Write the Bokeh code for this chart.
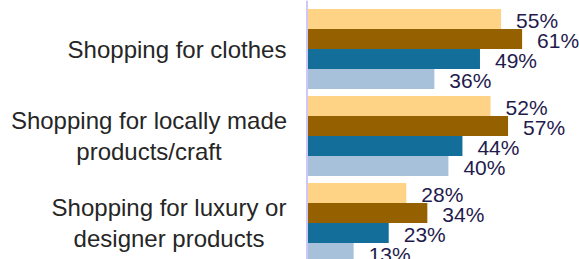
from bokeh.plotting import figure
from bokeh.models import Range1d, ColumnDataSource, Span
from bokeh.core.properties import value
from bokeh.embed import file_html
from bokeh.resources import INLINE

categories = ["Shopping for clothes",
              "Shopping for locally made\nproducts/craft",
              "Shopping for luxury or\ndesigner products"]
series_names = ["S1", "S2", "S3", "S4"]
series_values = [
    [55, 52, 28],
    [61, 57, 34],
    [49, 44, 23],
    [36, 40, 13],
]
colors = ["#FFD385", "#956000", "#136F99", "#A7C1DB"]

# layout
W, H = 579, 259
ZERO_PX = 307.5          # page x of the bar baseline
PX_PER_UNIT = 3.51
label_centers_px = [176.5, 148.5, 168.5]   # page x of the category label block centres
GROUP_STEP = 4.35

x_start = -ZERO_PX / PX_PER_UNIT
x_end = (W - ZERO_PX) / PX_PER_UNIT

p = figure(width=W, height=H, output_backend="svg", toolbar_location=None,
           x_range=Range1d(x_start, x_end), y_range=Range1d(12.025, -0.925),
           min_border_left=0, min_border_right=0, min_border_top=0, min_border_bottom=0)
p.outline_line_color = None
p.xgrid.visible = False
p.ygrid.visible = False
p.xaxis.visible = False
p.yaxis.visible = False
p.background_fill_color = None
p.border_fill_color = None

p.add_layout(Span(location=-1.0 / PX_PER_UNIT, dimension="height",
                  line_color="#CFC8F6", line_width=2))

for s, (name, vals) in enumerate(zip(series_names, series_values)):
    ys = [g * GROUP_STEP + s for g in range(len(categories))]
    src = ColumnDataSource(dict(y=ys, v=vals, lab=[f"{v}%" for v in vals]))
    p.hbar(y="y", left=0, right="v", height=1.0, source=src, fill_color=colors[s], line_color=None)
    p.text(x="v", y="y", text="lab", source=src, x_offset=15, y_offset=1,
           text_baseline="middle", text_align="left", text_font=value("Liberation Sans"),
           text_font_size="21px", text_color="#1F1B4D")

cat_src = ColumnDataSource(dict(
    x=[(cx - ZERO_PX) / PX_PER_UNIT for cx in label_centers_px],
    y=[g * GROUP_STEP + 1.5 for g in range(len(categories))],
    t=categories))
p.text(x="x", y="y", text="t", source=cat_src, text_align="center", text_baseline="middle",
       text_font=value("Liberation Sans"), text_font_size="24px",
       text_color="#262626", text_line_height=1.13)

open("out.html", "w").write(file_html(p, INLINE))
